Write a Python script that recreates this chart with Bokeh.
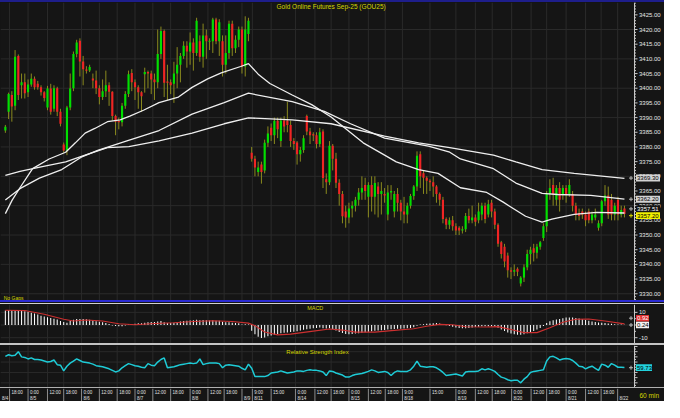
from bokeh.plotting import figure
from bokeh.layouts import column
from bokeh.models import Range1d, Label, Div
from bokeh.embed import file_html
from bokeh.resources import INLINE
from bokeh.core.properties import value

# ---------------- data (60 min bars) ----------------
opens = [
    3385.6, 3392.0, 3397.7, 3394.0, 3411.0, 3401.0, 3402.0, 3398.6, 3401.3, 3403.2,
    3401.5, 3400.3, 3398.6, 3393.4, 3399.9, 3393.0, 3400.0, 3392.0, 3380.8, 3378.8,
    3393.4, 3400.0, 3411.7, 3416.2, 3409.1, 3406.3, 3406.0, 3403.3, 3402.6, 3400.0,
    3397.0, 3399.0, 3401.0, 3398.8, 3390.5, 3388.8, 3388.4, 3394.0, 3398.0, 3405.2,
    3402.0, 3400.3, 3398.6, 3404.8, 3405.5, 3405.0, 3403.0, 3402.0, 3411.7, 3419.5,
    3402.2, 3402.0, 3401.5, 3405.0, 3408.0, 3411.0, 3414.5, 3412.5, 3415.6, 3412.0,
    3416.0, 3410.7, 3418.0, 3416.0, 3416.0, 3423.4, 3416.0, 3416.0, 3408.0, 3412.0,
    3422.0, 3413.6, 3416.5, 3420.0, 3407.4, 3418.5, 3378.0, 3376.0, 3371.5, 3374.0,
    3372.0, 3381.4, 3386.5, 3384.0, 3388.9, 3382.0, 3389.0, 3389.0, 3387.5, 3382.0,
    3381.5, 3377.5, 3379.0, 3390.5, 3385.3, 3384.2, 3384.0, 3381.0, 3385.3, 3369.0,
    3368.0, 3380.4, 3376.0, 3367.8, 3364.0, 3358.0, 3356.0, 3359.0, 3360.0, 3362.0,
    3364.5, 3367.0, 3363.0, 3367.0, 3363.0, 3366.5, 3364.0, 3364.0, 3357.0, 3364.5,
    3358.0, 3364.0, 3361.0, 3358.0, 3357.0, 3360.0, 3363.3, 3366.5, 3377.5, 3371.0,
    3369.5, 3368.5, 3368.0, 3366.5, 3364.0, 3362.0, 3355.5, 3353.5, 3355.0, 3353.0,
    3352.5, 3351.5, 3352.0, 3356.5, 3355.0, 3356.0, 3355.0, 3357.0, 3360.0, 3357.0,
    3361.0, 3358.0, 3353.5, 3347.5, 3346.0, 3343.0, 3338.0, 3337.5, 3338.5, 3333.5,
    3335.5, 3339.0, 3343.5, 3345.5, 3344.0, 3346.0, 3349.0, 3353.0, 3364.0, 3367.0,
    3362.0, 3366.0, 3364.0, 3366.0, 3364.0, 3364.0, 3360.0, 3357.5, 3358.0, 3357.0,
    3358.0, 3355.0, 3356.0, 3352.5, 3354.0, 3361.5, 3363.5, 3362.0, 3357.0, 3362.0,
    3357.0, 3359.0]
highs = [
    3387.5, 3398.5, 3399.0, 3413.0, 3411.5, 3405.0, 3405.0, 3403.0, 3405.0, 3404.0,
    3402.5, 3401.0, 3399.0, 3400.8, 3401.5, 3401.0, 3400.5, 3393.0, 3381.5, 3394.0,
    3405.0, 3412.5, 3416.5, 3417.0, 3411.0, 3407.5, 3408.0, 3405.0, 3406.0, 3401.0,
    3403.0, 3406.0, 3402.0, 3399.0, 3391.0, 3390.0, 3395.0, 3399.0, 3406.0, 3406.5,
    3403.0, 3401.0, 3399.0, 3407.0, 3406.0, 3406.0, 3405.0, 3420.0, 3421.0, 3420.0,
    3408.0, 3403.0, 3409.0, 3414.0, 3412.0, 3416.0, 3416.0, 3419.0, 3417.0, 3424.0,
    3418.0, 3422.0, 3420.0, 3417.0, 3424.0, 3424.0, 3423.5, 3418.0, 3418.0, 3423.0,
    3423.0, 3418.0, 3421.0, 3421.0, 3424.5, 3424.0, 3380.0, 3377.0, 3375.0, 3375.0,
    3382.5, 3387.0, 3388.0, 3390.0, 3390.0, 3390.0, 3390.5, 3395.4, 3389.0, 3383.0,
    3382.0, 3380.0, 3384.0, 3391.0, 3386.5, 3385.0, 3385.0, 3386.5, 3386.0, 3371.0,
    3382.0, 3381.0, 3378.0, 3369.0, 3365.0, 3360.0, 3361.0, 3361.5, 3363.0, 3366.0,
    3370.0, 3369.5, 3368.0, 3370.0, 3370.0, 3368.0, 3368.0, 3366.0, 3367.0, 3367.0,
    3365.0, 3366.0, 3362.0, 3363.0, 3361.0, 3364.0, 3367.0, 3378.5, 3378.5, 3372.0,
    3370.0, 3369.0, 3370.0, 3367.0, 3364.5, 3363.0, 3356.0, 3356.0, 3356.5, 3354.0,
    3353.0, 3353.0, 3357.5, 3359.0, 3360.0, 3357.0, 3361.0, 3361.0, 3361.0, 3362.0,
    3362.0, 3359.0, 3354.0, 3348.0, 3347.0, 3344.0, 3339.0, 3340.0, 3339.0, 3336.0,
    3340.0, 3345.0, 3346.0, 3347.0, 3347.0, 3348.0, 3354.0, 3365.0, 3369.0, 3369.5,
    3367.0, 3368.0, 3367.0, 3367.0, 3369.0, 3365.0, 3361.0, 3359.0, 3359.0, 3358.0,
    3359.0, 3358.0, 3359.0, 3355.0, 3362.0, 3367.0, 3366.5, 3364.0, 3361.0, 3363.0,
    3360.0, 3360.0]
lows = [
    3384.8, 3389.5, 3388.6, 3392.5, 3396.0, 3396.5, 3396.5, 3397.0, 3400.5, 3399.5,
    3399.5, 3397.5, 3395.5, 3392.5, 3391.0, 3392.0, 3390.5, 3387.0, 3378.0, 3377.2,
    3392.5, 3399.0, 3410.5, 3404.0, 3401.0, 3405.0, 3405.5, 3400.0, 3398.0, 3394.5,
    3396.0, 3397.0, 3394.0, 3389.0, 3384.0, 3386.0, 3387.0, 3393.0, 3397.0, 3399.0,
    3396.0, 3393.0, 3392.0, 3398.5, 3400.0, 3398.0, 3396.0, 3400.0, 3410.0, 3397.0,
    3396.0, 3398.0, 3395.0, 3400.0, 3402.0, 3410.0, 3407.0, 3408.0, 3406.0, 3411.0,
    3409.0, 3407.0, 3410.0, 3413.0, 3412.0, 3415.0, 3411.0, 3404.0, 3405.0, 3410.0,
    3411.0, 3412.0, 3414.0, 3405.0, 3404.0, 3416.0, 3375.0, 3370.0, 3370.0, 3367.5,
    3371.0, 3380.0, 3382.0, 3381.0, 3383.0, 3380.0, 3385.0, 3385.0, 3380.0, 3379.0,
    3374.0, 3375.0, 3378.0, 3384.0, 3381.0, 3382.0, 3379.5, 3380.0, 3366.0, 3364.0,
    3367.0, 3372.0, 3366.0, 3360.0, 3354.0, 3352.5, 3354.0, 3356.0, 3358.0, 3360.0,
    3362.0, 3362.0, 3356.0, 3358.0, 3357.0, 3356.0, 3357.0, 3361.0, 3355.0, 3362.0,
    3356.0, 3358.0, 3355.0, 3354.0, 3354.0, 3359.0, 3362.0, 3365.0, 3366.0, 3364.0,
    3364.0, 3365.0, 3363.0, 3361.0, 3360.0, 3354.0, 3352.0, 3352.0, 3351.5, 3350.0,
    3350.0, 3350.5, 3351.0, 3354.0, 3354.0, 3353.0, 3354.0, 3355.0, 3354.0, 3356.0,
    3356.0, 3352.0, 3346.0, 3342.0, 3339.0, 3335.5, 3335.0, 3336.0, 3336.0, 3332.5,
    3334.0, 3338.0, 3340.0, 3341.0, 3342.0, 3345.0, 3348.0, 3351.0, 3362.0, 3360.0,
    3360.0, 3358.0, 3362.0, 3361.0, 3363.0, 3358.0, 3355.0, 3355.0, 3355.5, 3353.0,
    3354.0, 3354.0, 3355.0, 3351.5, 3353.0, 3360.0, 3355.5, 3355.0, 3355.0, 3355.0,
    3356.0, 3356.0]
closes = [
    3386.9, 3398.0, 3393.8, 3410.7, 3397.7, 3402.0, 3398.3, 3401.3, 3403.2, 3400.3,
    3400.3, 3398.6, 3396.7, 3399.9, 3392.0, 3400.0, 3392.0, 3387.9, 3378.8, 3393.4,
    3399.9, 3411.7, 3415.6, 3409.1, 3406.5, 3406.0, 3407.2, 3402.6, 3400.0, 3397.0,
    3399.0, 3401.0, 3398.8, 3390.5, 3388.6, 3388.4, 3394.0, 3398.0, 3404.8, 3402.0,
    3400.3, 3398.6, 3397.3, 3405.5, 3405.0, 3403.0, 3402.0, 3411.7, 3419.5, 3401.9,
    3402.0, 3401.0, 3405.0, 3408.0, 3411.0, 3414.5, 3412.5, 3415.6, 3412.0, 3423.0,
    3410.7, 3418.0, 3416.0, 3416.0, 3423.4, 3416.0, 3422.5, 3408.0, 3412.0, 3422.0,
    3413.6, 3416.5, 3420.0, 3407.4, 3420.0, 3423.0, 3376.0, 3373.0, 3373.0, 3371.5,
    3381.4, 3384.6, 3384.0, 3388.9, 3386.0, 3389.0, 3387.0, 3387.5, 3382.0, 3381.0,
    3377.5, 3379.0, 3383.0, 3385.3, 3384.0, 3384.0, 3381.0, 3385.0, 3369.4, 3368.0,
    3380.4, 3376.0, 3367.8, 3364.0, 3356.4, 3356.0, 3359.0, 3360.0, 3362.0, 3364.5,
    3366.0, 3365.0, 3367.0, 3363.0, 3367.7, 3364.0, 3365.0, 3363.5, 3364.5, 3365.0,
    3364.0, 3361.0, 3358.0, 3357.0, 3360.0, 3363.3, 3366.5, 3377.0, 3370.0, 3369.5,
    3368.5, 3368.0, 3366.5, 3364.0, 3362.0, 3355.5, 3353.5, 3355.0, 3353.0, 3351.5,
    3351.5, 3352.0, 3356.5, 3355.0, 3356.0, 3354.5, 3358.0, 3360.0, 3355.5, 3360.5,
    3358.0, 3353.5, 3347.0, 3343.5, 3341.0, 3338.0, 3337.5, 3338.0, 3337.5, 3335.5,
    3339.0, 3343.5, 3345.0, 3344.0, 3346.0, 3347.5, 3353.0, 3364.0, 3366.0, 3364.0,
    3366.0, 3362.0, 3366.0, 3364.0, 3367.0, 3360.0, 3357.0, 3356.5, 3357.0, 3355.0,
    3355.0, 3357.0, 3357.0, 3354.0, 3361.5, 3363.5, 3357.0, 3357.0, 3360.0, 3357.0,
    3358.5, 3357.2]

# moving averages (sparse readings: bar index, price)
slow_i = [0, 4.5, 11.4, 18.6, 24.6, 31.5, 38.1, 47.4, 57.6, 67.5, 75, 88.5, 100.5, 117,
          127.5, 137.1, 150.6, 157.5, 165.6, 175.5, 191]
slow_v = [3370.35, 3371.65, 3373.3, 3374.9, 3377.2, 3379.8, 3380.1, 3382.1, 3384.7, 3387.9,
          3389.9, 3389.2, 3387.9, 3383.7, 3381.4, 3379.8, 3377.2, 3374.9, 3372.3, 3371.0, 3369.3]
med_i = [0, 4.5, 10.5, 17.4, 23.4, 28.5, 37.5, 47.4, 57.6, 67.5, 75, 88.5, 98.4, 106.5, 117,
         130.5, 137.1, 140.4, 150.6, 157.5, 165.6, 170.4, 180.6, 191]
med_v = [3361.9, 3365.8, 3369.4, 3372.3, 3376.5, 3378.8, 3382.1, 3385.6, 3391.2, 3395.1,
         3398.3, 3395.4, 3392.1, 3387.9, 3383.0, 3380.3, 3378.2, 3375.9, 3372.6, 3367.7,
         3364.2, 3363.8, 3363.5, 3362.2]
fast_i = [0, 2.1, 4.5, 8.4, 13.5, 18.6, 21.6, 24.6, 27.6, 31.5, 35.4, 38.4, 42.6, 47.4, 53.4,
          57.6, 62.4, 66.6, 72.6, 75, 78, 81.6, 88.5, 94.5, 100.5, 110.4, 117, 120.6, 127.5,
          133.5, 140.4, 148.5, 153.6, 160.5, 165.6, 168.6, 175.5, 182.4, 191]
fast_v = [3357.3, 3361.9, 3366.1, 3372.6, 3375.9, 3378.2, 3381.4, 3384.7, 3386.3, 3388.6,
          3389.2, 3390.5, 3392.5, 3395.1, 3397.0, 3400.3, 3403.2, 3405.2, 3407.4, 3408.4,
          3404.8, 3401.6, 3397.7, 3394.4, 3390.2, 3381.4, 3377.2, 3374.9, 3372.3, 3371.0,
          3366.1, 3364.5, 3361.2, 3356.4, 3354.4, 3355.4, 3357.0, 3357.7, 3357.51]

macd = [
    11.5, 11.6, 11.7, 11.6, 11.5, 11.2, 10.9, 10.4, 9.6, 9.0,
    8.4, 7.4, 6.8, 6.2, 5.6, 5.0, 4.4, 3.2, 2.3, 1.8,
    3.2, 4.2, 4.7, 4.8, 4.7, 4.5, 4.2, 3.5, 3.0, 2.6,
    2.1, 1.6, 0.8, -0.3, -0.7, -1.0, -0.9, -0.3, 0.5, 0.8,
    1.0, 1.3, 1.4, 1.8, 2.1, 2.3, 2.4, 2.8, 3.1, 2.2,
    1.6, 1.5, 1.8, 2.3, 2.8, 3.2, 3.3, 3.6, 3.8, 4.1,
    3.8, 3.9, 3.7, 3.6, 3.8, 3.4, 3.3, 2.5, 2.1, 2.2,
    1.8, 1.5, 1.3, 0.5, 0.6, 0.4, -4.5, -7.2, -9.3, -10.2,
    -9.8, -8.9, -8.2, -7.6, -7.0, -6.6, -6.2, -5.9, -5.6, -5.4,
    -5.0, -4.4, -3.8, -3.4, -3.0, -2.6, -2.3, -2.0, -2.6, -2.8,
    -2.6, -3.2, -4.4, -5.5, -6.4, -7.0, -7.2, -7.0, -6.8, -6.5,
    -6.1, -5.7, -5.3, -5.0, -4.6, -4.4, -4.2, -4.0, -3.6, -3.3,
    -3.1, -3.0, -2.9, -2.8, -2.6, -2.3, -1.8, -0.6, 0.4, 0.7,
    1.0, 1.2, 1.4, 1.5, 1.2, 0.6, -0.2, -0.8, -1.4, -2.0,
    -2.3, -2.5, -2.5, -2.3, -2.0, -1.6, -1.3, -1.0, -1.0, -0.9,
    -0.9, -1.2, -2.2, -3.6, -4.8, -5.9, -6.8, -7.3, -7.6, -7.6,
    -7.3, -6.6, -5.8, -4.8, -3.6, -2.4, -0.8, 1.6, 3.0, 3.8,
    4.3, 4.8, 5.4, 5.9, 6.0, 5.9, 5.6, 5.1, 4.5, 3.9,
    3.3, 2.8, 2.4, 2.0, 1.8, 1.5, 1.2, 0.9, 0.7, 0.5,
    0.35, 0.24]
sig_i = [0, 6, 12, 18, 21, 25, 30, 35, 40, 46, 52, 58, 64, 70, 75, 77, 80, 84, 88, 95,
         100, 104, 108, 114, 120, 126, 130, 134, 138, 142, 148, 152, 156, 160, 164, 168,
         172, 176, 180, 185, 191]
sig_v = [11.6, 11.4, 8.5, 4.5, 3.2, 4.0, 3.2, 1.0, 0.2, 1.2, 1.8, 2.8, 3.4, 2.8, 1.5, -0.5,
         -5.5, -7.8, -7.2, -4.8, -3.2, -4.0, -5.6, -5.6, -4.2, -3.0, -1.0, 0.5, 0.2, -1.4,
         -1.6, -1.3, -3.6, -6.0, -6.0, -2.2, 2.2, 4.6, 4.8, 3.2, 0.92]

rsi = [
    81, 84, 82, 83, 90, 80, 79, 76, 78, 75,
    75, 74, 72, 70, 71, 74, 65, 64, 53, 62,
    68, 72, 76, 73, 70, 69, 68, 66, 63, 62,
    61, 59, 57, 54, 51, 53, 59, 63, 67, 65,
    63, 62, 60, 59, 67, 64, 63, 70, 75, 78,
    59, 60, 61, 63, 65, 66, 67, 68, 67, 68,
    76, 65, 67, 68, 68, 68, 67, 59, 64, 65,
    64, 63, 62, 58, 55, 66, 58, 42, 42, 42,
    42, 44, 49, 50, 51, 53, 51, 49, 50, 51,
    53, 53, 52, 54, 55, 54, 54, 53, 51, 44,
    53, 52, 49, 47, 45, 41, 41, 44, 46, 47,
    48, 50, 52, 55, 53, 50, 51, 52, 50, 44,
    50, 53, 52, 52, 52, 55, 62, 72, 62, 61,
    60, 61, 61, 59, 55, 50, 44, 45, 46, 47,
    45, 43, 51, 52, 52, 52, 53, 57, 55, 57,
    55, 52, 46, 41, 39, 36, 34, 35, 35, 30,
    37, 42, 50, 52, 53, 54, 55, 72, 80, 81,
    78, 74, 76, 77, 76, 73, 68, 62, 61, 57,
    60, 62, 58, 54, 66, 64, 60, 67, 64, 60,
    60, 59.73]

# right-hand value tags
price_tags = ["3369.30", "3362.20", "3357.51", "3357.20"]
price_tag_y = [3369.4, 3362.2, 3358.9, 3356.6]
macd_tags = ["0.92", "0.24"]
macd_tag_y = [5.4, 0.0]
rsi_tags = ["59.73"]
rsi_tag_y = [59.1]

# x-axis labels: bar-index position, time row, date row
tick_pos = [1.3, 7.0, 13.0, 18.0, 23.5, 29.0, 34.5, 40.0, 45.5, 51.0, 57.0, 62.5, 67.5, 73.0,
            76.2, 82.0, 89.5, 95.5, 100.5, 106.0, 112.0, 117.2, 122.5, 131.0, 139.0, 145.0,
            150.2, 156.2, 162.2, 167.0, 173.0, 179.0, 183.8, 188.9]
tick_top = ["18:00", "0:00", "12:00", "18:00", "0:00", "12:00", "18:00", "0:00", "12:00",
            "18:00", "0:00", "12:00", "18:00", "", "9:00", "15:00", "0:00", "12:00", "18:00",
            "0:00", "12:00", "18:00", "9:00", "15:00", "0:00", "12:00", "18:00", "0:00",
            "12:00", "18:00", "0:00", "12:00", "18:00", ""]
tick_bot = ["", "8/5", "", "", "8/6", "", "", "8/7", "", "", "8/8", "", "", "8/9", "8/11", "",
            "8/14", "", "", "8/15", "", "", "8/18", "", "8/19", "", "", "8/20", "", "", "8/21",
            "", "", "8/22"]
first_date = "8/4"

# ---------------- styling ----------------
BG = "#151515"
GRID = "#2a2a2a"
AX = "#c8c8c8"
YEL = "#d6d600"
FONT = "Liberation Sans"
WICK = "#8a8a1e"
UP = "#00e000"
DN = "#f02424"

X0, X1 = -1.5, 194.1
FW = 634            # width of the chart area left of the value axis
SW = FW + 30        # full width
UPX = (X1 - X0) / FW
XE = X0 + SW * UPX
N = len(closes)
idx = list(range(N))


def base(h, y0, y1, hgrid):
    f = figure(frame_width=SW, frame_height=h, x_range=Range1d(X0, XE), y_range=Range1d(y0, y1),
               x_axis_location=None, y_axis_location=None, toolbar_location=None,
               output_backend="svg", background_fill_color=BG, border_fill_color=BG,
               outline_line_color=None, min_border_left=0, min_border_right=0,
               min_border_top=0, min_border_bottom=0)
    f.xgrid.visible = False
    f.ygrid.visible = False
    n = len(tick_pos)
    f.segment(x0=tick_pos, y0=[y0] * n, x1=tick_pos, y1=[y1] * n, line_color=GRID, line_width=1)
    m = len(hgrid)
    f.segment(x0=[X0] * m, y0=hgrid, x1=[X1] * m, y1=hgrid, line_color=GRID, line_width=1)
    return f


def value_axis(f, y0, y1, majors, labels, minors, fsize="6px"):
    f.segment(x0=[X1], y0=[y0], x1=[X1], y1=[y1], line_color=AX, line_width=1)
    f.segment(x0=[X1] * len(majors), y0=majors, x1=[X1 + 3 * UPX] * len(majors), y1=majors,
              line_color=AX, line_width=1)
    if minors:
        f.segment(x0=[X1] * len(minors), y0=minors, x1=[X1 + 1.5 * UPX] * len(minors),
                  y1=minors, line_color=AX, line_width=1)
    if labels:
        f.text(x=[X1 + 4.5 * UPX] * len(majors), y=majors, text=labels, text_font=value(FONT),
               text_font_size=fsize, text_color="#e6e6e6", text_baseline="middle",
               text_align="left")


def tags(f, ys, texts, bgs, fgs, wpx, hunits, mark_colors):
    f.scatter(x=[X1 - 3.5 * UPX] * len(ys), y=ys, marker="cross", size=4,
              line_color=mark_colors)
    f.rect(x=[X1 + (1.5 + wpx / 2) * UPX] * len(ys), y=ys, width=wpx * UPX, height=hunits,
           fill_color=bgs, line_color=None)
    f.text(x=[X1 + 2.5 * UPX] * len(ys), y=ys, text=texts, text_font=value(FONT),
           text_font_size="6px", text_color=fgs, text_baseline="middle", text_align="left")


# ---------------- price panel ----------------
PY0, PY1 = 3327.7, 3429.2
p = base(298, PY0, PY1, list(range(3330, 3430, 10)))

btop, bbot, cols = [], [], []
for o, c in zip(opens, closes):
    t, b = max(o, c), min(o, c)
    if t - b < 0.4:
        m = (t + b) / 2
        t, b = m + 0.2, m - 0.2
    btop.append(t)
    bbot.append(b)
    cols.append(UP if c >= o else DN)

p.segment(x0=idx, y0=lows, x1=idx, y1=highs, line_color=WICK, line_width=1)
p.vbar(x=idx, top=btop, bottom=bbot, width=0.66, fill_color=cols, line_color=None)
for xs, ys in ((slow_i, slow_v), (med_i, med_v), (fast_i, fast_v)):
    p.line(xs, ys, line_color="#eeeeee", line_width=1.3)

pmaj = list(range(3330, 3430, 5))
value_axis(p, PY0, PY1, pmaj, ["%.2f" % v for v in pmaj],
           [v for v in range(3328, 3430) if v % 5 != 0])
tags(p, price_tag_y, price_tags, ["#d2d2d2", "#d2d2d2", BG, "#f0f000"],
     ["#000000", "#000000", "#ffffff", "#000000"], 24, 2.35,
     ["#bbbbbb", "#bbbbbb", "#bbbbbb", "#d6d600"])

p.add_layout(Label(x=100.5, y=3428.9, text="Gold Online Futures Sep-25 (GOU25)", text_font=FONT,
                   text_font_size="6.5px", text_color=YEL, text_align="center",
                   text_baseline="top"))
p.add_layout(Label(x=-0.5, y=3328.6, text="No Gaps", text_font=FONT, text_font_size="5px",
                   text_color=YEL, text_align="left", text_baseline="middle"))

# ---------------- MACD panel ----------------
MY0, MY1 = -14.6, 16.2
pm = base(39, MY0, MY1, [-10, 0, 10])
pm.vbar(x=idx, top=macd, bottom=0, width=0.32, fill_color="#ffffff", line_color=None)
pm.line(sig_i, sig_v, line_color="#cc3030", line_width=1.1)
value_axis(pm, MY0, MY1, [-10, 10], ["-10", "10"], [-5, 0, 5])
tags(pm, macd_tag_y, macd_tags, ["#e03030", "#f2f2f2"], ["#ffffff", "#000000"], 13, 5.2,
     ["#bbbbbb", "#bbbbbb"])
pm.add_layout(Label(x=95.6, y=13.6, text="MACD", text_font=FONT, text_font_size="5.5px",
                    text_color=YEL, text_align="center", text_baseline="middle"))

# ---------------- RSI panel ----------------
RY0, RY1 = 21.0, 101.9
pr = base(42, RY0, RY1, [30, 50, 70, 90])
pr.line(idx, rsi, line_color="#1ecbd6", line_width=1.5)
value_axis(pr, RY0, RY1, [30, 40, 50, 60, 70, 80, 90, 100], None, [25, 35, 45, 55, 65, 75, 85, 95])
tags(pr, rsi_tag_y, rsi_tags, ["#22d2dc"], ["#000000"], 16, 13.0, ["#bbbbbb"])
pr.add_layout(Label(x=96.3, y=88.9, text="Relative Strength Index", text_font=FONT,
                    text_font_size="6px", text_color=YEL, text_align="center",
                    text_baseline="middle"))

# ---------------- time axis strip ----------------
ps = figure(frame_width=SW, frame_height=13, x_range=Range1d(X0, XE),
            y_range=Range1d(0, 13), x_axis_location=None, y_axis_location=None,
            toolbar_location=None, output_backend="svg", background_fill_color=BG,
            border_fill_color=BG, outline_line_color=None, min_border_left=0,
            min_border_right=0, min_border_top=0, min_border_bottom=0)
ps.xgrid.visible = False
ps.ygrid.visible = False
ps.segment(x0=tick_pos, y0=[0] * len(tick_pos), x1=tick_pos, y1=[13] * len(tick_pos),
           line_color="#8c8c8c", line_width=1)
ps.text(x=[t + 0.6 for t in tick_pos], y=[9.4] * len(tick_pos), text=tick_top,
        text_font=value(FONT), text_font_size="4.5px", text_color="#e0e0e0",
        text_baseline="middle", text_align="left")
ps.text(x=[t + 0.6 for t in tick_pos] + [-1.0], y=[3.4] * (len(tick_pos) + 1),
        text=tick_bot + [first_date], text_font=value(FONT), text_font_size="4.5px",
        text_color="#e0e0e0", text_baseline="middle", text_align="left")
ps.text(x=[X0 + 639 * UPX], y=[6.0], text=["60 min"], text_font=value(FONT),
        text_font_size="6.5px", text_color=YEL, text_baseline="middle", text_align="left")


def bar(h, color):
    return Div(text="", width=SW, height=h, margin=0, styles={"background-color": color})


layout = column(bar(2, "#1e1e8c"), p, bar(2, "#2a2ad2"), bar(1, BG), bar(1, "#d0d0d0"), pm,
                bar(2, "#c4c4c4"), pr, bar(1, "#b0b0b0"), ps, spacing=0,
                styles={"background-color": BG})

open("out.html", "w").write(file_html(layout, INLINE))
